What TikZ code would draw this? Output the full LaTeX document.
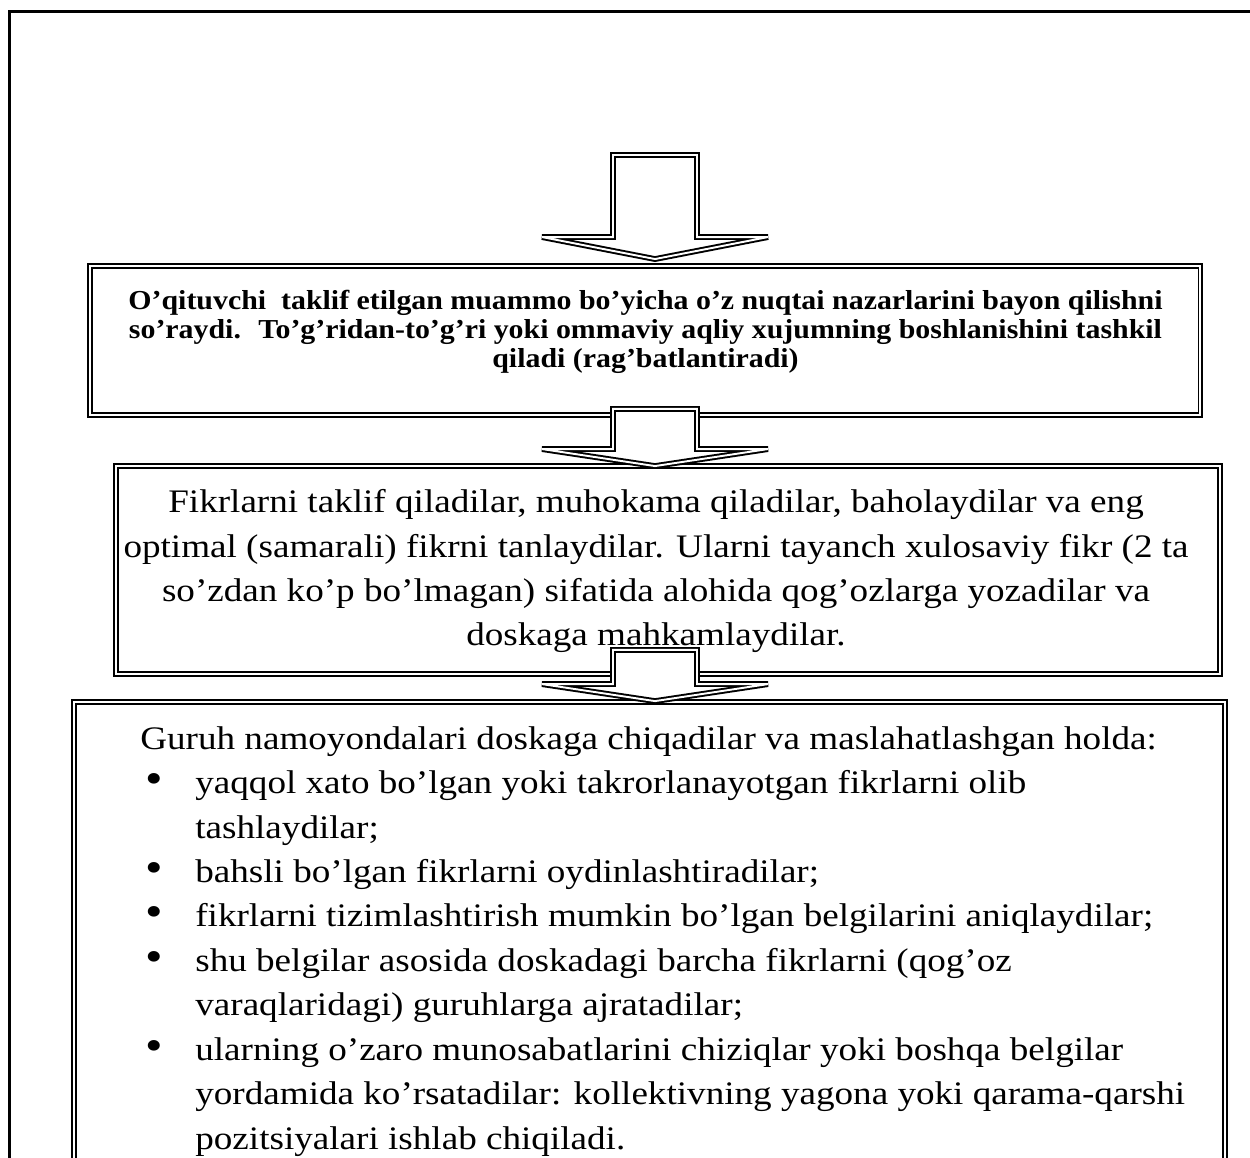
\documentclass[tikz,border=0pt]{standalone}
\usepackage{fontspec}
\setmainfont[FakeStretch=1.13]{Liberation Serif}
\newfontfamily\boldserif[FakeStretch=1.09]{Liberation Serif}
\usetikzlibrary{calc,positioning}
\tikzset{
  frame/.style  = {draw, line width=1.3pt},
  dbox/.style   = {draw, line width=1.1pt, double, double distance=1.1pt,
                   inner sep=0pt},
  barrow/.style = {draw, line width=1.1pt, double, double distance=1.1pt,
                   fill=white, line join=miter},
  btext/.style  = {font=\boldserif\fontsize{15.6}{16.4}\selectfont\bfseries,
                   align=center, inner sep=0pt},
  ntext/.style  = {font=\fontsize{18.7}{25.1}\selectfont,
                   align=center, inner sep=0pt},
  ltext/.style  = {font=\fontsize{18.7}{25.3}\selectfont,
                   align=left, inner sep=0pt},
}
% block arrow: shaft top, tip, depth of head
\newcommand{\blockdown}[3]{\draw[barrow] ($(#1)+(-42,0)$) -- ($(#1)+(42,0)$)
  -- ($(#2)+(42,-#3)$) -- ($(#2)+(113,-#3)$) -- (#2)
  -- ($(#2)+(-113,-#3)$) -- ($(#2)+(-42,-#3)$) -- cycle;}
\newcommand{\itembul}{\hspace*{0.1cm}\makebox[1.0cm][l]{\scalebox{1.35}{\textbullet}}}
\newcommand{\itemcont}{\hspace*{1.1cm}}

\begin{document}
\begin{tikzpicture}[x=0.02cm,y=-0.02cm]
\clip (0,0) rectangle (1250,1157);
\draw[frame] (9.5,1300) |- (1300,11.5);
% ---------- boxes ----------
\node[dbox, minimum width=22.21cm, minimum height=2.98cm] (task) at (645.25,340.5) {};
\node[dbox, minimum width=22.08cm, minimum height=4.16cm] (ideas) at (668,570) {};
\node[dbox, minimum width=23.02cm, minimum height=9.96cm] (group) at (649.5,951) {};
% ---------- arrows ----------
\coordinate (a1s) at (655,155);
\coordinate (a1e) at ($(a1s |- task.north)+(0,-6)$);
\coordinate (a2s) at ($(a1s |- task.south)+(0,-7)$);
\coordinate (a2e) at ($(a1s |- ideas.north)+(0,1)$);
\coordinate (a3s) at ($(a1s |- ideas.south)+(0,-25)$);
\coordinate (a3e) at (a1s |- group.north);
\blockdown{a1s}{a1e}{22}
\blockdown{a2s}{a2e}{17}
\blockdown{a3s}{a3e}{17}
% ---------- texts ----------
\node[btext, anchor=north] (tasktxt) at (645.5,290)
  {O’qituvchi~ taklif etilgan muammo bo’yicha o’z nuqtai nazarlarini bayon qilishni\\
   so’raydi.~ To’g’ridan-to’g’ri yoki ommaviy aqliy xujumning boshlanishini tashkil\\
   qiladi (rag’batlantiradi)};
\node[ntext, anchor=north] (ideastxt) at (656,489.5)
  {Fikrlarni taklif qiladilar, muhokama qiladilar, baholaydilar va eng\\
   optimal (samarali) fikrni tanlaydilar. Ularni tayanch xulosaviy fikr (2 ta\\
   so’zdan ko’p bo’lmagan) sifatida alohida qog’ozlarga yozadilar va\\
   doskaga mahkamlaydilar.};
\node[ltext, anchor=north west] (grouptxt) at (140,726)
  {Guruh namoyondalari doskaga chiqadilar va maslahatlashgan holda:\\
   \itembul yaqqol xato bo’lgan yoki takrorlanayotgan fikrlarni olib\\
   \itemcont tashlaydilar;\\
   \itembul bahsli bo’lgan fikrlarni oydinlashtiradilar;\\
   \itembul fikrlarni tizimlashtirish mumkin bo’lgan belgilarini aniqlaydilar;\\
   \itembul shu belgilar asosida doskadagi barcha fikrlarni (qog’oz\\
   \itemcont varaqlaridagi) guruhlarga ajratadilar;\\
   \itembul ularning o’zaro munosabatlarini chiziqlar yoki boshqa belgilar\\
   \itemcont yordamida ko’rsatadilar: kollektivning yagona yoki qarama-qarshi\\
   \itemcont pozitsiyalari ishlab chiqiladi.};
\end{tikzpicture}
\end{document}
